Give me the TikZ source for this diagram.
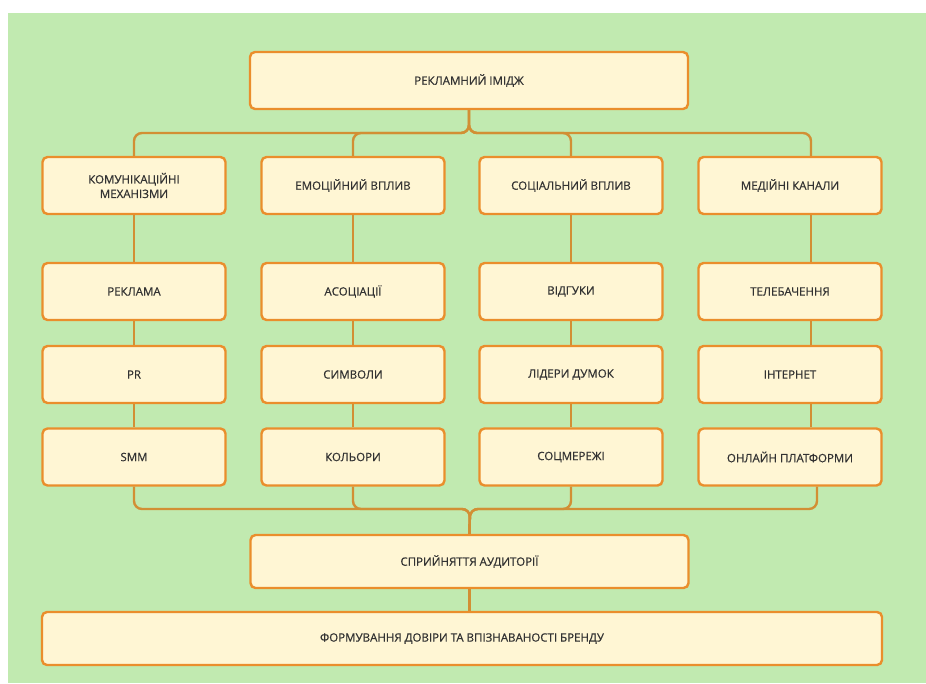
\documentclass[tikz,border=0pt]{standalone}
\usepackage{fontspec}
\setmainfont{Open Sans}
\newfontfamily\lblfont{Open Sans}[FakeBold=0.6]
\definecolor{bg}{RGB}{193,234,176}
\definecolor{boxfill}{RGB}{255,246,212}
\definecolor{boxline}{RGB}{234,142,44}
\definecolor{linec}{RGB}{210,143,52}
\definecolor{txt}{RGB}{50,50,50}
\tikzset{
  box/.style={draw=boxline, fill=boxfill, line width=2.4pt, rounded corners=5pt,
    minimum width=183pt, minimum height=57pt, align=center, inner sep=2pt,
    text=txt, font=\lblfont\fontsize{11.5}{14.5}\selectfont},
  widebox/.style={box, minimum width=438pt},
  conn/.style={draw=linec, line width=2.4pt, rounded corners=8pt}
}
\begin{document}
\begin{tikzpicture}[x=1pt,y=-1pt]
\useasboundingbox (0,0) rectangle (926,683);
\fill[bg] (8,13) rectangle (926,683);

\node[widebox] (top) at (469,80.5) {РЕКЛАМНИЙ ІМІДЖ};

\node[box] (k1) at (134,185.5) {КОМУНІКАЦІЙНІ\\МЕХАНІЗМИ};
\node[box] (k2) at (353,185.5) {ЕМОЦІЙНИЙ ВПЛИВ};
\node[box] (k3) at (571,185.5) {СОЦІАЛЬНИЙ ВПЛИВ};
\node[box] (k4) at (790,185.5) {МЕДІЙНІ КАНАЛИ};

\node[box] (a1) at (134,291.5) {РЕКЛАМА};
\node[box] (a2) at (353,291.5) {АСОЦІАЦІЇ};
\node[box] (a3) at (571,291.5) {ВІДГУКИ};
\node[box] (a4) at (790,291.5) {ТЕЛЕБАЧЕННЯ};

\node[box] (b1) at (134,374.5) {PR};
\node[box] (b2) at (353,374.5) {СИМВОЛИ};
\node[box] (b3) at (571,374.5) {ЛІДЕРИ ДУМОК};
\node[box] (b4) at (790,374.5) {ІНТЕРНЕТ};

\node[box] (c1) at (134,457) {SMM};
\node[box] (c2) at (353,457) {КОЛЬОРИ};
\node[box] (c3) at (571,457) {СОЦМЕРЕЖІ};
\node[box] (c4) at (790,457) {ОНЛАЙН ПЛАТФОРМИ};

\node[widebox, minimum height=53pt] (perc) at (469.5,561.5) {СПРИЙНЯТТЯ АУДИТОРІЇ};
\node[box, minimum width=840pt, minimum height=53pt] (fin) at (462,638.5) {ФОРМУВАННЯ ДОВІРИ ТА ВПІЗНАВАНОСТІ БРЕНДУ};

\coordinate (tb) at (469,133);
\coordinate (bb) at (470,509);

\draw[conn] (top.south) -- (top.south |- tb) -| (k1.north);
\draw[conn] (top.south) -- (top.south |- tb) -| (k2.north);
\draw[conn] (top.south) -- (top.south |- tb) -| (k3.north);
\draw[conn] (top.south) -- (top.south |- tb) -| ([xshift=21pt]k4.north);

\foreach \c in {1,2,3}{
  \draw[conn] (k\c.south) -- (a\c.north);
  \draw[conn] (a\c.south) -- (b\c.north);
  \draw[conn] (b\c.south) -- (c\c.north);
  \draw[conn] (c\c.south) |- (bb) -- (perc.north);
}
\draw[conn] ([xshift=21pt]k4.south) -- ([xshift=21pt]a4.north);
\draw[conn] ([xshift=21pt]a4.south) -- ([xshift=21pt]b4.north);
\draw[conn] ([xshift=21pt]b4.south) -- ([xshift=21pt]c4.north);
\draw[conn] ([xshift=27pt]c4.south) |- (bb) -- (perc.north);

\draw[conn] (perc.south) -- (perc.south |- fin.north);
\end{tikzpicture}
\end{document}
